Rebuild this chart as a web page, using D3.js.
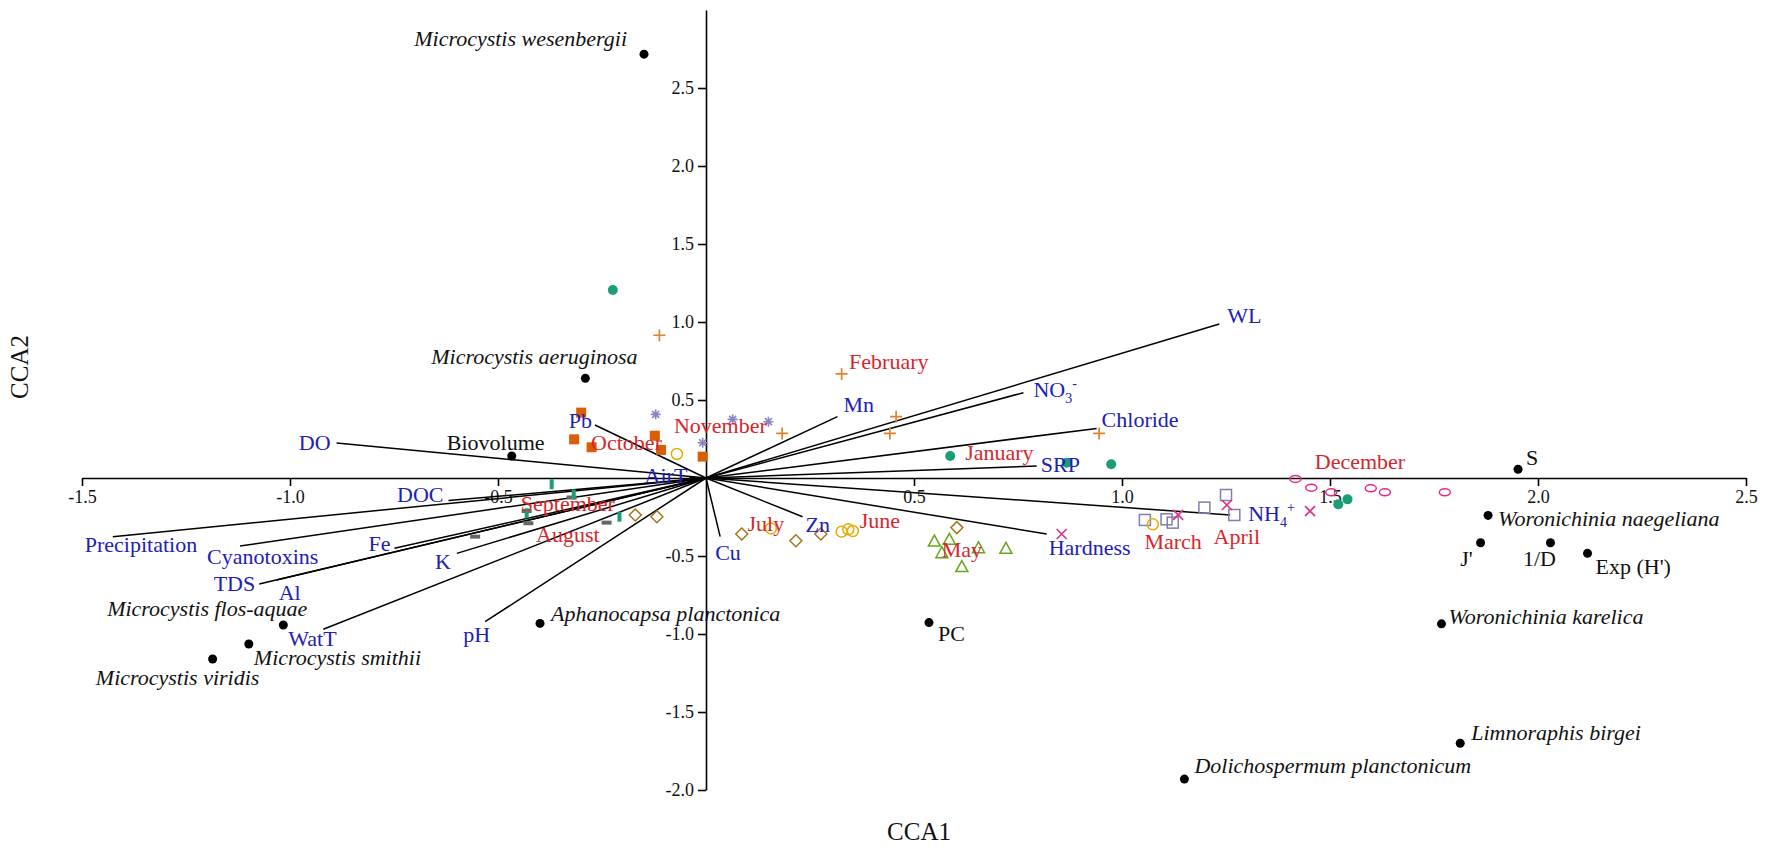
<!DOCTYPE html>
<html>
<head>
<meta charset="utf-8">
<script src="https://cdn.jsdelivr.net/npm/d3@7"></script>
<style>
  body { margin: 0; background: #fff; }
  text { font-family: "Liberation Serif", "Times New Roman", serif; }
</style>
</head>
<body>
<svg id="chart" width="1772" height="851"></svg>
<script>
// ---------------------------------------------
// CCA biplot — scores
// ---------------------------------------------

const xTicks = [-1.5, -1.0, -0.5, 0.5, 1.0, 1.5, 2.0, 2.5];
const yTicks = [-2.0, -1.5, -1.0, -0.5, 0.5, 1.0, 1.5, 2.0, 2.5];

// environmental vectors (arrow tips)
const envNames = ['WL', 'NO3', 'Chloride', 'SRP', 'Hardness', 'NH4', 'Mn', 'Zn', 'Cu', 'Pb', 'AirT',
  'DO', 'DOC', 'Precipitation', 'Cyanotoxins', 'Fe', 'K', 'TDS', 'Al', 'WatT', 'pH'];
const envScores = [
  [1.234, 0.987], [0.763, 0.547], [0.939, 0.318], [0.795, 0.077], [0.819, -0.359], [1.260, -0.237],
  [0.316, 0.393], [0.232, -0.248], [0.034, -0.376], [-0.267, 0.340], [-0.040, 0.005],
  [-0.888, 0.224], [-0.619, -0.145], [-1.426, -0.376], [-1.120, -0.436], [-0.749, -0.451],
  [-0.599, -0.483], [-1.074, -0.680], [-1.032, -0.654], [-0.920, -0.970], [-0.531, -0.921]
];

// species and diversity indices
const speciesNames = ['Microcystis wesenbergii', 'Microcystis aeruginosa', 'Biovolume', 'Microcystis flos-aquae',
  'Microcystis smithii', 'Microcystis viridis', 'Aphanocapsa planctonica', 'PC', 'Woronichinia naegeliana',
  "J'", '1/D', "Exp (H')", 'S', 'Woronichinia karelica', 'Limnoraphis birgei', 'Dolichospermum planctonicum'];
const speciesScores = [
  [-0.149, 2.717], [-0.290, 0.639], [-0.467, 0.141], [-1.016, -0.942],
  [-1.099, -1.064], [-1.186, -1.160], [-0.399, -0.932], [0.536, -0.927], [1.880, -0.240],
  [1.862, -0.415], [2.030, -0.415], [2.119, -0.483], [1.952, 0.056], [1.768, -0.935],
  [1.813, -1.700], [1.150, -1.930]
];

// month labels (centroid positions)
const months = ['January', 'February', 'March', 'April', 'May', 'June', 'July', 'August',
  'September', 'October', 'November', 'December'];
const monthCentroids = [
  [0.623, 0.162], [0.344, 0.746], [1.123, -0.408], [1.276, -0.376], [0.615, -0.457], [0.418, -0.274],
  [0.144, -0.290], [-0.332, -0.365], [-0.332, -0.167], [-0.191, 0.224], [-0.077, 0.335], [1.572, 0.104]
];

// sample scores by month
const janScores = [[-0.224, 1.205], [0.587, 0.141], [0.867, 0.098], [0.974, 0.088], [1.520, -0.169], [1.542, -0.137]];
const febScores = [[-0.112, 0.915], [0.326, 0.667], [0.183, 0.286], [0.457, 0.393], [0.442, 0.286], [0.945, 0.286]];
const marScores = [[1.055, -0.269], [1.107, -0.265], [1.122, -0.286], [1.198, -0.190], [1.250, -0.109], [1.270, -0.237]];
const aprScores = [[0.855, -0.359], [1.135, -0.237], [1.252, -0.173], [1.452, -0.212]];
const mayScores = [[0.549, -0.404], [0.585, -0.393], [0.567, -0.479], [0.655, -0.447], [0.721, -0.451], [0.615, -0.568]];
const junScores = [[0.156, -0.323], [0.326, -0.344], [0.342, -0.329], [0.353, -0.340], [1.074, -0.297], [-0.070, 0.154]];
const julScores = [[-0.170, -0.237], [-0.118, -0.248], [0.086, -0.359], [0.216, -0.402], [0.276, -0.359], [0.603, -0.318]];
const augScores = [[-0.555, -0.376], [-0.427, -0.290], [-0.239, -0.286], [-0.323, -0.125], [-0.431, -0.212]];
const sepScores = [[-0.371, -0.040], [-0.318, -0.105], [-0.431, -0.226], [-0.208, -0.248]];
const octScores = [[-0.300, 0.419], [-0.317, 0.248], [-0.275, 0.197], [-0.123, 0.271], [-0.108, 0.180], [-0.008, 0.137]];
const novScores = [[-0.121, 0.408], [-0.008, 0.226], [0.064, 0.376], [0.150, 0.361]];
const decScores = [[1.417, -0.006], [1.455, -0.062], [1.503, -0.092], [1.598, -0.066], [1.632, -0.092], [1.776, -0.092]];

// ---------------------------------------------
// layout / style
// ---------------------------------------------
const FONT = '"Liberation Serif", "Times New Roman", serif';
const LABEL_SIZE = 22;
const BLUE = '#2020b8';
const RED = '#d7262b';

// label placement: [anchor, dx px, dy px from point to text centre]
const envLabelPos = {
  WL: ['start', 8, -8], NO3: ['start', 10, -3], Chloride: ['start', 5, -9], SRP: ['start', 4, -1],
  Hardness: ['start', 2, 14], NH4: ['start', 18, -1], Mn: ['start', 6, -12], Zn: ['start', 3, 8],
  Cu: ['start', -5, 16], Pb: ['end', -3, -4], AirT: ['end', -2, -1], DO: ['end', -6, 0],
  DOC: ['end', -5, -6], Precipitation: ['start', -28, 8], Cyanotoxins: ['start', -33, 11],
  Fe: ['end', -4, -5], K: ['end', -6, 8], TDS: ['end', -4, 0], Al: ['start', 2, 13],
  WatT: ['start', -35, 9], pH: ['end', 5, 13]
};
const speciesLabelPos = [
  ['end', -17, -15], ['middle', -51, -22], ['middle', -16, -13], ['end', 24, -16],
  ['start', 5, 14], ['middle', -35, 19], ['start', 11, -10], ['start', 9, 11],
  ['start', 10, 3], ['middle', -14, 16], ['middle', -11, 16], ['start', 8, 13],
  ['start', 8, -12], ['start', 7, -7], ['start', 11, -10], ['start', 10, -13]
];
const plainSpecies = new Set(['Biovolume', 'PC', "J'", '1/D', "Exp (H')", 'S']);
const monthAnchor = { January: 'start', February: 'start', November: 'start' };

// Dark2-like colours, one shape per month
const sampleSets = [
  { pts: janScores, shape: 'dot', color: '#1b9e77' },
  { pts: febScores, shape: 'plus', color: '#e0822a' },
  { pts: marScores, shape: 'osquare', color: '#7f7fb0' },
  { pts: aprScores, shape: 'cross', color: '#d9338c' },
  { pts: mayScores, shape: 'otri', color: '#66a61e' },
  { pts: junScores, shape: 'ocircle', color: '#e6ab02' },
  { pts: julScores, shape: 'odiamond', color: '#a6761d' },
  { pts: augScores, shape: 'dash', color: '#666666' },
  { pts: sepScores, shape: 'bar', color: '#1b9e77' },
  { pts: octScores, shape: 'fsquare', color: '#d95f02' },
  { pts: novScores, shape: 'star', color: '#8a84c4' },
  { pts: decScores, shape: 'oellipse', color: '#e7298a' }
];

// ---------------------------------------------
const svg = d3.select('#chart');
const x = d3.scaleLinear().domain([-1.5, 2.5]).range([82, 1746]);
const y = d3.scaleLinear().domain([-2, 3]).range([790, 10]);

// axes crossing at the origin
const gx = svg.append('g')
  .attr('transform', `translate(0,${y(0)})`)
  .call(d3.axisBottom(x).tickValues(xTicks).tickFormat(d => d.toFixed(1))
    .tickSize(8).tickSizeOuter(0).tickPadding(4));
const gy = svg.append('g')
  .attr('transform', `translate(${x(0)},0)`)
  .call(d3.axisLeft(y).tickValues(yTicks).tickFormat(d => d.toFixed(1))
    .tickSize(8).tickSizeOuter(0).tickPadding(4));
[gx, gy].forEach(g => {
  g.select('.domain').attr('stroke', '#000').attr('stroke-width', 1.6);
  g.selectAll('.tick line').attr('stroke', '#000').attr('stroke-width', 1.6);
  g.selectAll('.tick text').attr('font-family', FONT).attr('font-size', 18).attr('fill', '#111');
});

// axis titles
svg.append('text')
  .attr('x', 919).attr('y', 832).attr('dy', '0.33em')
  .attr('text-anchor', 'middle').attr('font-size', 25).attr('fill', '#111')
  .text('CCA1');
svg.append('text')
  .attr('transform', 'translate(20,367) rotate(-90)').attr('dy', '0.33em')
  .attr('text-anchor', 'middle').attr('font-size', 25).attr('fill', '#111')
  .text('CCA2');

// environmental vectors
svg.append('g').selectAll('line')
  .data(envScores)
  .join('line')
  .attr('x1', x(0)).attr('y1', y(0))
  .attr('x2', d => x(d[0])).attr('y2', d => y(d[1]))
  .attr('stroke', '#000').attr('stroke-width', 1.5);

// sample markers
function drawShape(g, shape, color) {
  const sw = 1.5;
  switch (shape) {
    case 'dot':
      g.append('circle').attr('r', 5).attr('fill', color); break;
    case 'plus':
      g.append('path').attr('d', 'M-6,0H6M0,-6V6').attr('stroke', color).attr('stroke-width', 1.7); break;
    case 'osquare':
      g.append('rect').attr('x', -5.5).attr('y', -5.5).attr('width', 11).attr('height', 11)
        .attr('fill', 'none').attr('stroke', color).attr('stroke-width', sw); break;
    case 'cross':
      g.append('path').attr('d', 'M-5,-5L5,5M-5,5L5,-5').attr('stroke', color).attr('stroke-width', 1.7); break;
    case 'otri':
      g.append('path').attr('d', 'M0,-6L6,5H-6Z').attr('fill', 'none').attr('stroke', color).attr('stroke-width', sw); break;
    case 'ocircle':
      g.append('circle').attr('r', 5.5).attr('fill', 'none').attr('stroke', color).attr('stroke-width', sw); break;
    case 'odiamond':
      g.append('path').attr('d', 'M0,-6L6,0L0,6L-6,0Z').attr('fill', 'none').attr('stroke', color).attr('stroke-width', sw); break;
    case 'dash':
      g.append('rect').attr('x', -5).attr('y', -2).attr('width', 10).attr('height', 4).attr('fill', color); break;
    case 'bar':
      g.append('rect').attr('x', -2).attr('y', -5).attr('width', 4).attr('height', 10).attr('fill', color); break;
    case 'fsquare':
      g.append('rect').attr('x', -5).attr('y', -5).attr('width', 10).attr('height', 10).attr('fill', color); break;
    case 'star':
      g.append('path').attr('d', 'M-5,0H5M0,-5V5M-3.5,-3.5L3.5,3.5M-3.5,3.5L3.5,-3.5')
        .attr('stroke', color).attr('stroke-width', 1.6); break;
    case 'oellipse':
      g.append('ellipse').attr('rx', 5.5).attr('ry', 3.5).attr('fill', 'none').attr('stroke', color).attr('stroke-width', sw); break;
  }
}

const samplesLayer = svg.append('g');
sampleSets.forEach(set => {
  samplesLayer.append('g').selectAll('g')
    .data(set.pts)
    .join('g')
    .attr('transform', d => `translate(${x(d[0])},${y(d[1])})`)
    .each(function () { drawShape(d3.select(this), set.shape, set.color); });
});

// species dots
svg.append('g').selectAll('circle')
  .data(speciesScores)
  .join('circle')
  .attr('cx', d => x(d[0])).attr('cy', d => y(d[1]))
  .attr('r', 4.5).attr('fill', '#000');

// species labels
svg.append('g').selectAll('text')
  .data(speciesNames)
  .join('text')
  .attr('x', (d, i) => x(speciesScores[i][0]) + speciesLabelPos[i][1])
  .attr('y', (d, i) => y(speciesScores[i][1]) + speciesLabelPos[i][2])
  .attr('dy', '0.33em')
  .attr('text-anchor', (d, i) => speciesLabelPos[i][0])
  .attr('font-size', LABEL_SIZE)
  .attr('font-style', d => plainSpecies.has(d) ? 'normal' : 'italic')
  .attr('fill', '#111')
  .text(d => d);

// month labels
svg.append('g').selectAll('text')
  .data(months)
  .join('text')
  .attr('x', (d, i) => x(monthCentroids[i][0]))
  .attr('y', (d, i) => y(monthCentroids[i][1]))
  .attr('dy', '0.33em')
  .attr('text-anchor', d => monthAnchor[d] || 'middle')
  .attr('font-size', LABEL_SIZE)
  .attr('fill', RED)
  .text(d => d);

// environmental labels (with ion sub/superscripts)
const envText = svg.append('g').selectAll('text')
  .data(envNames)
  .join('text')
  .attr('x', (d, i) => x(envScores[i][0]) + envLabelPos[d][1])
  .attr('y', (d, i) => y(envScores[i][1]) + envLabelPos[d][2])
  .attr('dy', '0.33em')
  .attr('text-anchor', d => envLabelPos[d][0])
  .attr('font-size', LABEL_SIZE)
  .attr('fill', BLUE);

envText.each(function (d) {
  const t = d3.select(this);
  if (d === 'NO3' || d === 'NH4') {
    t.append('tspan').text(d.slice(0, 2));
    t.append('tspan').attr('font-size', 14).attr('dy', 6).text(d.slice(2));
    t.append('tspan').attr('font-size', 14).attr('dy', -15).text(d === 'NO3' ? '-' : '+');
  } else {
    t.text(d);
  }
});
</script>
</body>
</html>
